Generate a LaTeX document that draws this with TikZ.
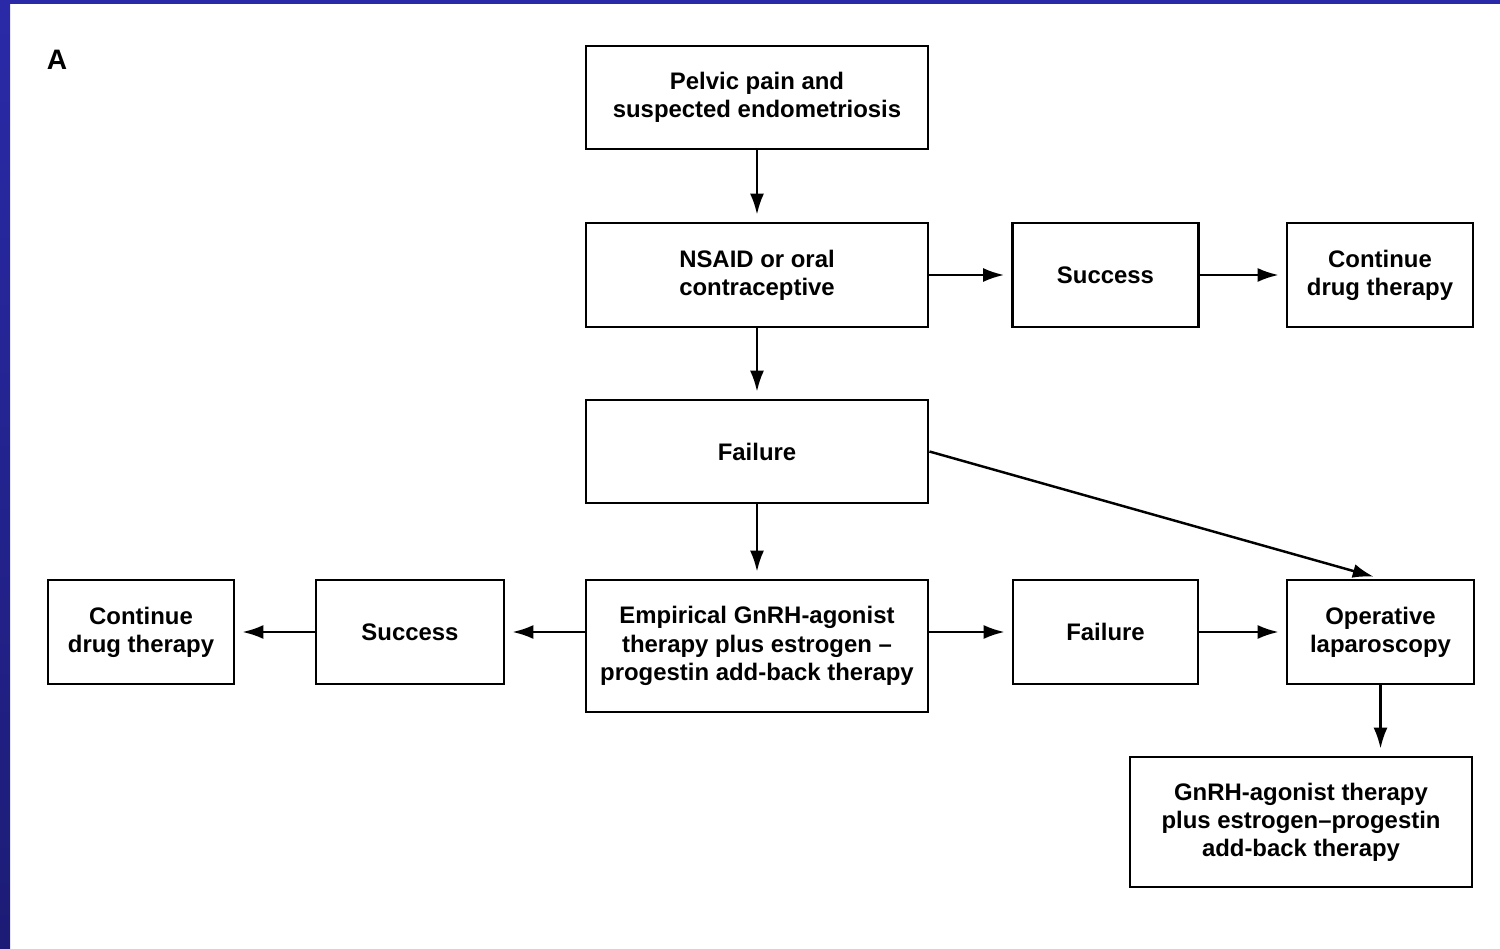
\documentclass[tikz,border=0pt]{standalone}
\usepackage{fontspec}
\setmainfont{Liberation Sans}
\usepackage{tikz}
\usetikzlibrary{shapes.geometric, arrows, arrows.meta}
\usetikzlibrary{shapes,positioning}
\definecolor{frametop}{RGB}{42,42,168}
\definecolor{framebot}{RGB}{28,28,118}
\tikzstyle{box} = [draw, line width=0.75pt, align=center, inner sep=1pt,
    font=\fontsize{6.8}{8}\selectfont\bfseries]
\tikzstyle{wide} = [box, minimum width=3.42cm]
\tikzstyle{narrow} = [box, minimum width=1.86cm, minimum height=1.04cm]
\tikzstyle{arrow} = [line width=0.7pt,-{Latex[length=2.1mm,width=1.4mm]},shorten >=0.7mm]

\begin{document}
\begin{tikzpicture}[x=0.01cm, y=-0.01cm]
    \useasboundingbox (0,0) rectangle (1500,949);
    % blue frame of the slide
    \shade[top color=frametop, bottom color=framebot] (0,0) rectangle (10,949);
    \fill[frametop] (0,0) rectangle (1500,4);
    \node[font=\fontsize{8}{9}\selectfont\bfseries] (lblA) at (57,60) {A};

    \node[wide, minimum height=1.03cm] (pain) at (757,97.5) {Pelvic pain and\\suspected endometriosis};
    \node[wide, minimum height=1.04cm] (nsaid) at (757,275) {NSAID or oral\\contraceptive};
    \node[narrow] (succA) at (1105.5,275) {Success};
    \node[narrow] (contA) at (1380,275) {Continue\\drug therapy};
    \node[wide, minimum height=1.03cm] (failA) at (757,451.5) {Failure};
    \node[wide, minimum height=1.32cm] (emp) at (757,646) {Empirical GnRH-agonist\\therapy plus estrogen --\\progestin add-back therapy};
    \node[narrow, minimum width=1.88cm] (succB) at (410,632) {Success};
    \node[narrow] (contB) at (141,632) {Continue\\drug therapy};
    \node[narrow, minimum width=1.85cm] (failB) at (1105.5,632) {Failure};
    \node[narrow, minimum width=1.87cm] (oper) at (1380.5,632) {Operative\\laparoscopy};
    \node[wide, minimum height=1.30cm] (gnrh) at (1301,822) {GnRH-agonist therapy\\plus estrogen--progestin\\add-back therapy};

    \draw[arrow] (pain) -- (nsaid);
    \draw[arrow] (nsaid) -- (failA);
    \draw[arrow] (failA) -- (emp);
    \draw[arrow] (nsaid) -- (succA);
    \draw[arrow] (succA) -- (contA);
    \draw[arrow] (failA.east) -- (oper.north);
    \draw[arrow] (emp.west |- succB.east) -- (succB.east);
    \draw[arrow] (succB) -- (contB);
    \draw[arrow] (emp.east |- failB.west) -- (failB.west);
    \draw[arrow] (failB) -- (oper);
    \draw[arrow] (oper.south) -- (oper.south |- gnrh.north);
\end{tikzpicture}
\end{document}
